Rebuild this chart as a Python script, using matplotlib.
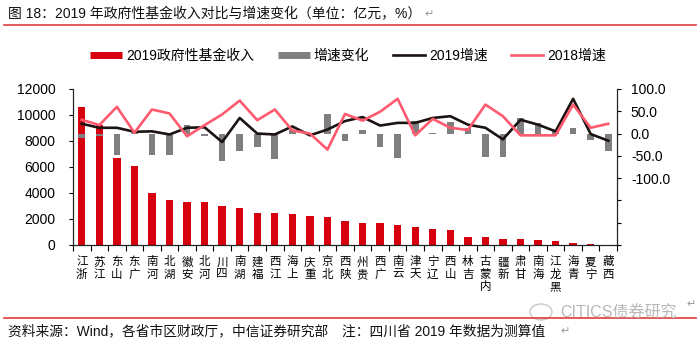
import matplotlib
matplotlib.use("Agg")
import matplotlib.pyplot as plt
from matplotlib.lines import Line2D
from matplotlib.patches import Ellipse
import numpy as np

plt.rcParams['font.family'] = ['Liberation Sans', 'Noto Sans CJK SC', 'DejaVu Sans']
plt.rcParams['axes.unicode_minus'] = False

provinces = ['浙江', '江苏', '山东', '广东', '河南', '湖北', '安徽', '河北', '四川', '湖南',
             '福建', '江西', '上海', '重庆', '北京', '陕西', '贵州', '广西', '云南', '天津',
             '辽宁', '山西', '吉林', '内蒙古', '新疆', '甘肃', '海南', '黑龙江', '青海', '宁夏', '西藏']

# 2019 government fund revenue (100 million yuan)
revenue_2019 = [10600, 9230, 6680, 6080, 4030, 3440, 3290, 3280, 3000, 2880,
                2490, 2490, 2360, 2210, 2150, 1820, 1670, 1670, 1510, 1390,
                1200, 1120, 580, 580, 460, 460, 390, 310, 180, 60, 15]

# growth rates (%)
growth_2019 = [22, 13, 13, 4, 5, -2, 13, 14, -19, 35,
               0, -2, 16, -4, 9, 28, 37, 18, 24, 24,
               35, 39, 20, 13, -13, 31, 20, 5, 78, -1, -16]
growth_2018 = [31, 19, 60, 2, 54, 45, -6, 19, 43, 74,
               30, 54, 7, 0, -36, 44, 29, 49, 78, -4,
               33, 13, 8, 65, 39, -4, -4, -4, 65, 13, 22]
growth_change = [-10, -6, -47, 2, -49, -47, 19, -5, -62, -39,
                 -30, -56, 9, -4, 45, -16, 8, -31, -54, 28,
                 2, 26, 12, -52, -52, 35, 24, 9, 13, -14, -38]

RED = '#D7000F'
GRAY = '#7F7F7F'
BLACK = '#1A1311'
PINK = '#FF5A6E'

fig = plt.figure(figsize=(7.0, 3.44), dpi=100)
ax = fig.add_axes([73 / 700, 1 - 245 / 344, (617 - 73) / 700, (245 - 89) / 344])
ax2 = ax.twinx()

x = np.arange(len(provinces))
ax.bar(x, revenue_2019, width=0.42, color=RED, zorder=2)
ax2.bar(x, growth_change, width=0.38, color=GRAY, zorder=2)
ax2.plot(x, growth_2019, color=BLACK, lw=1.9, zorder=3)
ax2.plot(x, growth_2018, color=PINK, lw=1.9, zorder=3)

ax.set_xlim(-0.5, len(provinces) - 0.5)
ax.set_ylim(0, 12000)
ax.set_yticks(np.arange(0, 12001, 2000))
ax2.set_ylim(-250, 100)
right_ticks = np.arange(-250, 101, 50)
ax2.set_yticks(right_ticks)
ax2.set_yticklabels([f'{v:.1f}' if v >= -100 else '' for v in right_ticks])

for a in (ax, ax2):
    a.spines['top'].set_visible(False)
    for s in a.spines.values():
        s.set_linewidth(0.8)
        s.set_color('#222222')
    a.patch.set_visible(False)

ax.tick_params(axis='y', direction='out', length=3, width=0.8, pad=9.5, labelsize=10)
ax2.tick_params(axis='y', direction='out', length=3, width=0.8, pad=7, labelsize=10)

# category labels stacked vertically, read from bottom to top
ax.set_xticks(x)
ax.set_xticklabels(['\n'.join(reversed(p)) for p in provinces],
                   fontsize=8.3, linespacing=0.95, family=['Noto Sans CJK SC'])
ax.set_xticks(np.arange(-0.5, len(provinces), 1), minor=True)
ax.tick_params(axis='x', which='major', length=0, pad=7.5)
ax.tick_params(axis='x', which='minor', length=4, width=0.8, direction='out')

handles = [Line2D([], [], color=RED, lw=5, solid_capstyle='butt'),
           Line2D([], [], color=GRAY, lw=5, solid_capstyle='butt'),
           Line2D([], [], color=BLACK, lw=1.9),
           Line2D([], [], color=PINK, lw=1.9)]
labels = ['2019政府性基金收入', '增速变化', '2019增速', '2018增速']
fig.legend(handles, labels, loc='center', bbox_to_anchor=(348 / 700, 1 - 56 / 344),
           ncol=4, frameon=False, fontsize=10, handlelength=2.3,
           handletextpad=0.3, columnspacing=1.7)

# header and footer
fig.text(8 / 700, 1 - 14.5 / 344, '图 18：2019 年政府性基金收入对比与增速变化（单位：亿元，%）',
         fontsize=10, va='center', ha='left', color='#111111')
fig.text(424 / 700, 1 - 14.5 / 344, '↵', fontsize=8, va='center', ha='left',
         color='#999999', family=['DejaVu Sans'])
fig.add_artist(Line2D([4 / 700, 696 / 700], [1 - 25 / 344, 1 - 25 / 344],
                      color='#E03C3C', lw=1.2, transform=fig.transFigure))

fig.add_artist(Ellipse((541 / 700, 1 - 312 / 344), 22 / 700, 16 / 344,
                       transform=fig.transFigure, fill=False, ec='#C8C8C8', lw=1.0))
fig.text(560 / 700, 1 - 313 / 344, 'CITICS债券研究', fontsize=11.5, va='center',
         ha='left', color='#B8B8B8')
fig.text(686 / 700, 1 - 304 / 344, '↵', fontsize=8, va='center', ha='left',
         color='#999999', family=['DejaVu Sans'])
fig.add_artist(Line2D([4 / 700, 696 / 700], [1 - 318 / 344, 1 - 318 / 344],
                      color='#E03C3C', lw=1.2, transform=fig.transFigure))

fig.text(8 / 700, 1 - 331 / 344,
         '资料来源：Wind，各省市区财政厅，中信证券研究部　注：四川省 2019 年数据为测算值',
         fontsize=9.9, va='center', ha='left', color='#111111')
fig.text(560 / 700, 1 - 331 / 344, '↵', fontsize=8, va='center', ha='left',
         color='#999999', family=['DejaVu Sans'])

fig.savefig('out.png', dpi=100)
